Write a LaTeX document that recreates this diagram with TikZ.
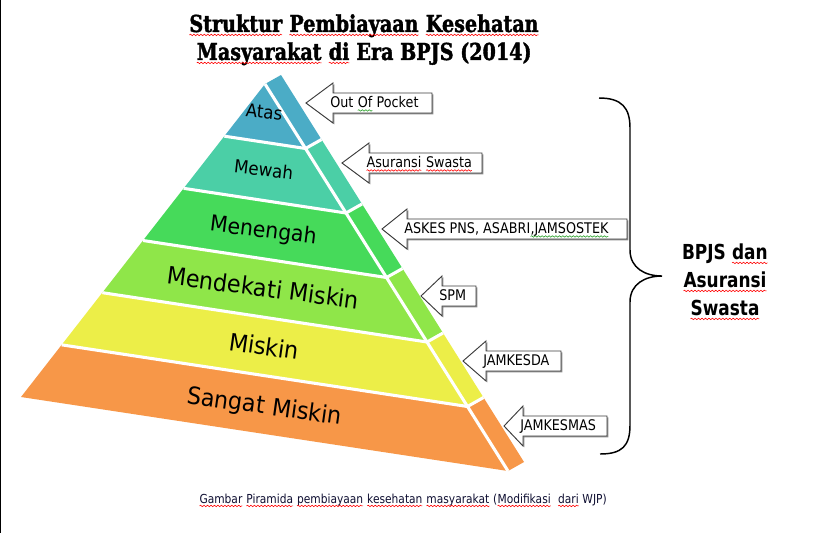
\documentclass[tikz,border=0pt]{standalone}
\usepackage{fontspec}
\usetikzlibrary{calc,decorations.pathmorphing}
\newfontfamily\pyrfont[FakeStretch=0.93]{DejaVu Sans}
\newfontfamily\lblfont[FakeStretch=0.87]{DejaVu Sans}
\newfontfamily\capfont[FakeStretch=0.86]{DejaVu Sans}
\newfontfamily\bpjsfont[FakeStretch=0.82]{DejaVu Sans}
\newfontfamily\titlefont[FakeStretch=0.82, FakeBold=1.6]{DejaVu Serif}
\definecolor{cAtas}{RGB}{75,172,198}
\definecolor{cMewah}{RGB}{75,207,166}
\definecolor{cMen}{RGB}{70,218,90}
\definecolor{cDek}{RGB}{143,230,73}
\definecolor{cMis}{RGB}{236,238,72}
\definecolor{cSan}{RGB}{247,151,72}
\definecolor{wavegreen}{RGB}{40,160,40}
\definecolor{arrowline}{RGB}{60,60,60}
\tikzset{
  arrowbox/.style={draw=arrowline, fill=white, line width=0.7pt, line join=miter},
  lbl/.style={inner sep=0pt, font=\lblfont\fontsize{11}{13}\selectfont, text=black},
  pyr/.style={inner sep=0pt, font=\pyrfont\fontsize{18}{20}\selectfont, text=black},
  sepline/.style={white, line width=2.3pt},
  squig/.style={line width=0.45pt, decorate, decoration={snake, amplitude=0.55pt, segment length=2.6pt}},
}
% word with a wavy underline (spell-check mark)
\newcommand\wavy[2]{\tikz[baseline=(w.base)]{\node[inner sep=0pt, outer sep=0pt, anchor=base, rotate=0] (w) {#2};
  \draw[squig, #1] ([yshift=-2.2pt]w.base west) -- ([yshift=-2.2pt]w.base east);}}
\newcommand\rw[1]{\wavy{red}{#1}}
\newcommand\gw[1]{\wavy{wavegreen}{#1}}
% #1 name, #2 tip x, #3 tip y, #4 head back x, #5 right x, #6 text
\newcommand\callout[6]{%
  \begin{scope}[xshift=1pt,yshift=-1pt]
    \fill[black!45] (#2,#3) -- (#4,{#3-20}) -- (#4,{#3-10}) -- (#5,{#3-10}) -- (#5,{#3+10}) -- (#4,{#3+10}) -- (#4,{#3+20}) -- cycle;
  \end{scope}
  \draw[arrowbox] (#2,#3) -- (#4,{#3-20}) -- (#4,{#3-10}) -- (#5,{#3-10}) -- (#5,{#3+10}) -- (#4,{#3+10}) -- (#4,{#3+20}) -- cycle;
  \node[lbl, anchor=base west] (#1) at ({#4-3},{#3+4.5}) {#6};
}
\begin{document}
\begin{tikzpicture}[x=0.75pt, y=-0.75pt]
\useasboundingbox (0,0) rectangle (816,533);
\fill[white] (0,0) rectangle (816,533);
\draw[line width=1.1pt] (0.7,0) -- (0.7,533);

% pyramid geometry
\coordinate (F) at (265,84);
\coordinate (L) at (21,397);
\coordinate (R) at (508,471);

\foreach \k/\col in {1/cAtas,2/cMewah,3/cMen,4/cDek,5/cMis,6/cSan}{
  \pgfmathsetmacro\ta{(\k-1)/6}
  \pgfmathsetmacro\tb{\k/6}
  \fill[\col] ($(F)!\ta!(L)$) -- ($(F)!\tb!(L)$) -- ($(F)!\tb!(R)$) -- ($(F)!\ta!(R)$) -- cycle;
  \fill[\col] ($(F)!\ta!(R)$) -- ($(F)!\tb!(R)$) -- ($(F)!\tb!(R)+(16,-9)$) -- ($(F)!\ta!(R)+(16,-9)$) -- cycle;
}
\draw[sepline] (F) -- (R);
\foreach \k in {1,...,5}{
  \pgfmathsetmacro\tb{\k/6}
  \draw[sepline] ($(F)!\tb!(L)$) -- ($(F)!\tb!(R)$) -- ($(F)!\tb!(R)+(16,-9)$);
}

% pyramid labels
\node[pyr, anchor=base, rotate=-6, font=\pyrfont\fontsize{13.5}{15}\selectfont] (tAtas) at (263.5,118.5) {Atas};
\node[pyr, anchor=base, rotate=-6.5, font=\pyrfont\fontsize{13.5}{15}\selectfont] (tMewah) at (263,176) {Mewah};
\node[pyr, anchor=base, rotate=-7, font=\pyrfont\fontsize{16.5}{18}\selectfont] (tMen) at (262.5,237.5) {Menengah};
\node[pyr, anchor=base, rotate=-7.5] (tDek) at (262,296.5) {Mendekati Miskin};
\node[pyr, anchor=base, rotate=-8] (tMis) at (263,355) {Miskin};
\node[pyr, anchor=base, rotate=-8] (tSan) at (263.5,414) {Sangat Miskin};

% callout arrows
\callout{aOOP}{306}{103}{333}{432}{Out \gw{Of} Pocket}
\callout{aAS}{342}{163}{369}{482}{\rw{Asuransi} \rw{Swasta}}
\callout{aASK}{382}{229}{407}{627}{ASKES PNS, ASABRI\gw{,JAMSOSTEK}}
\callout{aSPM}{421}{296}{442}{476}{SPM}
\callout{aJD}{463}{361}{486}{561}{JAMKESDA}
\callout{aJM}{504}{426}{523}{607}{JAMKESMAS}

% brace
\coordinate (bTop) at (599,98);
\coordinate (bTip) at (662,276);
\coordinate (bBot) at (600,454);
\draw[line width=1.1pt] (bTop) .. controls (622,98) and (630,108) .. (630,128) -- (630,250)
  .. controls (630,268) and (645,276) .. (bTip)
  .. controls (645,276) and (630,284) .. (630,302) -- (630,425)
  .. controls (630,446) and (622,454) .. (bBot);

\node[anchor=north, inner sep=0pt, align=center, font=\bpjsfont\bfseries\fontsize{15.5}{21}\selectfont] (bpjs) at (725,244)
  {BPJS \rw{dan}\\ \rw{Asuransi}\\ \rw{Swasta}};

% title
\node[anchor=north, inner sep=0pt, align=center, font=\titlefont\bfseries\fontsize{17.5}{21}\selectfont] (title) at (364,14)
  {\rw{Struktur} \rw{Pembiayaan} \rw{Kesehatan}\\ \rw{Masyarakat} \rw{di} Era BPJS (2014)};

% caption
\node[anchor=base, inner sep=0pt, font=\capfont\fontsize{9.3}{11}\selectfont, text={rgb,255:red,15;green,15;blue,50}] (caption) at (403,503)
  {\rw{Gambar} \rw{Piramida} \rw{pembiayaan} \rw{kesehatan} \rw{masyarakat} (\rw{Modifikasi}\ \ \rw{dari} WJP)};
\end{tikzpicture}
\end{document}
